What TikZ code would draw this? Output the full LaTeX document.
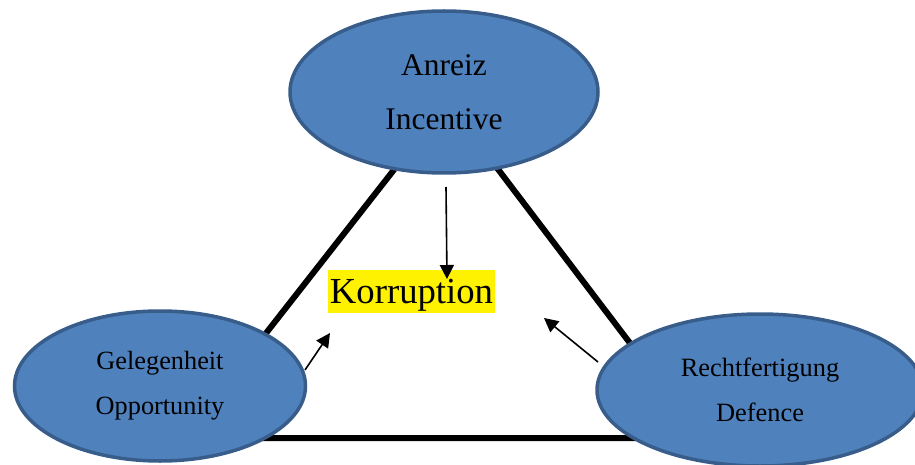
\documentclass[tikz,border=0pt]{standalone}
\usepackage{fontspec}
\setmainfont{Liberation Serif}
\usetikzlibrary{arrows.meta,shapes.geometric,positioning}
\definecolor{ovalfill}{RGB}{79,129,189}
\definecolor{ovaldraw}{RGB}{56,93,138}

\begin{document}
\begin{tikzpicture}[x=1pt,y=-1pt,inner sep=0pt,
  oval/.style={ellipse,fill=ovalfill,draw=ovaldraw,line width=3.5pt,align=center},
  side/.style={line width=6pt},
  push/.style={line width=1.6pt,-{Triangle[length=14pt,width=14pt]}}]
\clip (0,0) rectangle (915,465);
\coordinate (apex) at (447,102);
\coordinate (bl) at (184,438);
\coordinate (br) at (702,438);
\draw [side] (apex) -- (bl) -- (br) -- cycle;
\node[oval,minimum width=308pt,minimum height=162pt,font=\fontsize{31.5}{54}\selectfont] (anreiz) at (444,92) {Anreiz\\Incentive};
\node[oval,minimum width=291pt,minimum height=150pt,font=\fontsize{26.3}{45}\selectfont] (gelegen) at (160,386) {Gelegenheit\\Opportunity};
\node[oval,minimum width=326pt,minimum height=152pt,font=\fontsize{26.4}{45}\selectfont] (recht) at (760,390) {Rechtfertigung\\Defence};
\node[fill=yellow,font=\fontsize{36.7}{44}\selectfont,text height=33pt,text depth=10pt,minimum width=167pt] (korr) at (411.5,291.5) {Korruption};
\coordinate (a1) at (446,187);
\coordinate (a2) at (447,279);
\coordinate (b1) at (305,370);
\coordinate (b2) at (330,333);
\coordinate (c1) at (598,362);
\coordinate (c2) at (544,318);
\draw [push] (a1) -- (a2);
\draw [push] (b1) -- (b2);
\draw [push] (c1) -- (c2);
\end{tikzpicture}
\end{document}
